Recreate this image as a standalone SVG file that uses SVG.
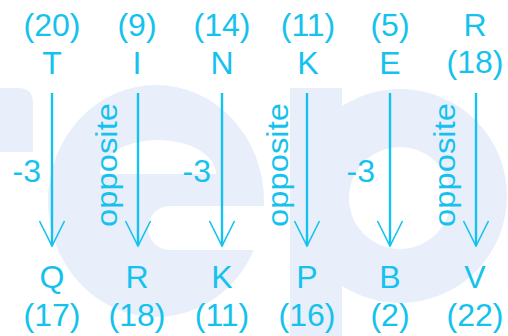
<svg xmlns="http://www.w3.org/2000/svg" width="508" height="336" viewBox="0 0 508 336">
<defs>
<style>
.wm{fill:#E8EFFA}
.hole{fill:#FFFFFF}
text{font-family:"Liberation Sans",Arial,sans-serif;fill:#15C2EE}
.t{font-size:32px;text-anchor:middle}
.lab{font-size:32px;text-anchor:end}
.opp{font-size:29px;text-anchor:middle}
.edge{stroke:#15C2EE;stroke-width:2.4;fill:none}
</style>
<marker id="ah" markerUnits="userSpaceOnUse" orient="auto" refX="0" refY="0" markerWidth="30" markerHeight="30" viewBox="-22 -12 24 24" overflow="visible">
<path d="M-20,-10 L0,0 L-20,10" fill="none" stroke="#15C2EE" stroke-width="1.3"/>
</marker>
</defs>
<rect width="508" height="336" fill="#FFFFFF"/>
<g id="watermark">
<path class="wm" d="M0,88 H18 Q33,88 33,103 V152 H0 Z"/>
<ellipse class="wm" cx="156" cy="201" rx="108" ry="116"/>
<path class="hole" d="M100,174 A58,34 0 0 1 216,174 Z"/>
<path class="hole" d="M170,206 H270 V250 H170 A22,22 0 0 1 170,206 Z"/>
<rect class="wm" x="290" y="88" width="52" height="248"/>
<circle class="wm" cx="400" cy="196" r="107"/>
<circle class="hole" cx="400" cy="198" r="51"/>
</g>
<g id="connectors">
<line class="edge" x1="52" y1="93" x2="52" y2="246" marker-end="url(#ah)"/>
<line class="edge" x1="138" y1="93" x2="138" y2="246" marker-end="url(#ah)"/>
<line class="edge" x1="222" y1="93" x2="222" y2="246" marker-end="url(#ah)"/>
<line class="edge" x1="307" y1="93" x2="307" y2="246" marker-end="url(#ah)"/>
<line class="edge" x1="390" y1="93" x2="390" y2="246" marker-end="url(#ah)"/>
<line class="edge" x1="476" y1="93" x2="476" y2="246" marker-end="url(#ah)"/>
<text class="lab" x="41" y="182">-3</text>
<text class="lab" x="211" y="182">-3</text>
<text class="lab" x="375" y="182">-3</text>
<text class="opp" x="117" y="165" transform="rotate(-90 117 165)" textLength="124" lengthAdjust="spacingAndGlyphs">opposite</text>
<text class="opp" x="288" y="165" transform="rotate(-90 288 165)" textLength="124" lengthAdjust="spacingAndGlyphs">opposite</text>
<text class="opp" x="455" y="165" transform="rotate(-90 455 165)" textLength="124" lengthAdjust="spacingAndGlyphs">opposite</text>
</g>
<g id="node-T"><text class="t" x="52" y="36">(20)</text><text class="t" x="52" y="74">T</text></g>
<g id="node-I"><text class="t" x="137" y="36">(9)</text><text class="t" x="137" y="74">I</text></g>
<g id="node-N"><text class="t" x="222" y="36">(14)</text><text class="t" x="222" y="74">N</text></g>
<g id="node-K"><text class="t" x="308" y="36">(11)</text><text class="t" x="308" y="74">K</text></g>
<g id="node-E"><text class="t" x="390" y="36">(5)</text><text class="t" x="390" y="74">E</text></g>
<g id="node-R"><text class="t" x="475" y="36">R</text><text class="t" x="475" y="73">(18)</text></g>
<g id="node-Q"><text class="t" x="52" y="288">Q</text><text class="t" x="52" y="326">(17)</text></g>
<g id="node-R2"><text class="t" x="137" y="288">R</text><text class="t" x="137" y="326">(18)</text></g>
<g id="node-K2"><text class="t" x="222" y="288">K</text><text class="t" x="222" y="326">(11)</text></g>
<g id="node-P"><text class="t" x="307" y="288">P</text><text class="t" x="307" y="326">(16)</text></g>
<g id="node-B"><text class="t" x="390" y="288">B</text><text class="t" x="390" y="326">(2)</text></g>
<g id="node-V"><text class="t" x="475" y="288">V</text><text class="t" x="475" y="326">(22)</text></g>
</svg>
